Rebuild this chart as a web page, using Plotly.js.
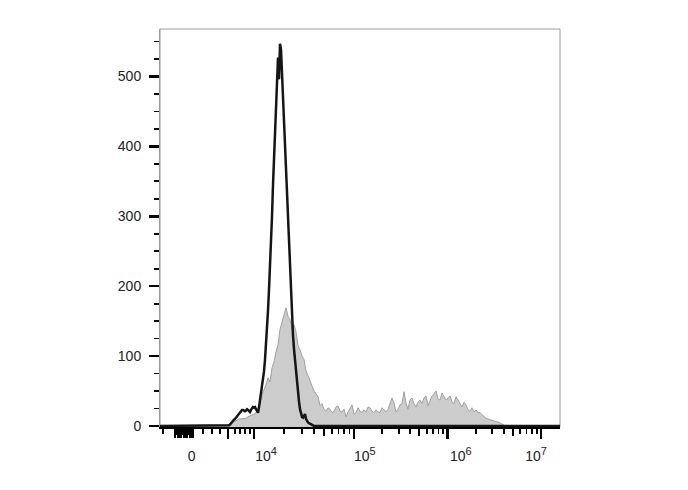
<!DOCTYPE html>
<html>
<head>
<meta charset="utf-8">
<script src="https://cdn.plot.ly/plotly-3.0.1.min.js"></script>
<style>html,body{margin:0;padding:0;background:#fff;}#chart{width:688px;height:490px;}</style>
</head>
<body>
<div id="chart"></div>
<script>
// Histogram channel scale (0..1000). Gray = control, black = stained sample.
const grayStart = 165, grayStep = 5;
const grayCounts = [0,2,3,5,6,8,9,10,10,11,11,13,14,15,17,19,22,30,45,52,59,69,63,83,92,106,116,138,149,160,169,157,152,138,145,135,115,109,100,95,79,72,64,57,50,46,42,29,32,24,21,26,24,19,21,27,29,21,20,24,13,20,26,30,17,19,26,21,19,23,20,27,26,21,19,23,20,19,26,23,20,24,32,40,33,20,24,30,32,49,33,24,37,40,32,27,34,37,32,40,43,29,36,43,46,50,39,37,47,42,37,40,43,34,32,42,37,30,27,34,30,23,21,26,20,23,19,19,16,14,11,10,9,7,7,6,6,4,3,1,0];

const blackStart = 165, blackStep = 2.5;
const blackCounts = [0,0,1,1,2,4,6,8,9,10,12,14,16,18,19,21,23,23,22,21,22,24,23,21,20,23,26,27,26,27,24,21,19,27,37,49,52,62,78,95,115,138,165,195,225,262,300,345,385,420,467,510,527,496,547,539,503,471,430,395,360,328,295,262,225,195,165,130,110,95,72,58,45,35,24,16,13,12,16,17,10,6,5,4,3,2,1,0,0];

// Axis: decade positions on the channel scale
const decadeVals = [170, 235, 485, 718.75, 952.5];       // 10^3 .. 10^7
const zeroClusterLong = [37.5, 46, 52, 60, 66, 75, 81];
const zeroClusterShort = [41.5, 56, 70.5];
const lowMinorTicks = [7.5, 107.5, 130, 150, 187.5, 200, 212.5, 225];
const xLabelVals = [79.25, 265, 512, 752, 940];
const supStyle = '<span style="font-size:11px">';
const xLabelText = ['0', '10<sup>' + supStyle + '4</span></sup>', '10<sup>' + supStyle + '5</span></sup>',
                    '10<sup>' + supStyle + '6</span></sup>', '10<sup>' + supStyle + '7</span></sup>'];

const yTickVals = [0, 100, 200, 300, 400, 500];
const yTickText = ['0', '100', '200', '300', '400', '500'];
const yMinorVals = [25, 50, 75, 125, 150, 175, 225, 250, 275, 325, 350, 375, 425, 450, 475, 525, 550];

// build bin positions
const grayX = grayCounts.map((_, i) => grayStart + i * grayStep);
const blackX = blackCounts.map((_, i) => blackStart + i * blackStep);
const blackXFull = [0].concat(blackX, [1000]);
const blackYFull = [0].concat(blackCounts, [0]);

// log minor ticks between decades 10^4..10^7
const minorVals = lowMinorTicks.slice();
const midVals = [];
for (let d = 1; d < decadeVals.length - 1; d++) {
  const a = decadeVals[d], b = decadeVals[d + 1];
  for (let k = 2; k <= 9; k++) {
    const v = a + Math.log10(k) * (b - a);
    if (k === 5) midVals.push(v); else minorVals.push(v);
  }
}

const traces = [
  {x: grayX, y: grayCounts, type: 'scatter', mode: 'lines', fill: 'tozeroy',
   fillcolor: 'rgb(204,204,204)', line: {color: 'rgb(160,160,160)', width: 1}, hoverinfo: 'skip'},
  {x: blackXFull, y: blackYFull, type: 'scatter', mode: 'lines',
   line: {color: '#151515', width: 2.5}, hoverinfo: 'skip'},
  {x: [], y: [], xaxis: 'x2', type: 'scatter', hoverinfo: 'skip'},
  {x: [], y: [], xaxis: 'x3', type: 'scatter', hoverinfo: 'skip'},
  {x: [], y: [], xaxis: 'x4', type: 'scatter', hoverinfo: 'skip'}
];

const font = {family: 'Arial, Liberation Sans, sans-serif', size: 14, color: '#222'};
const xfont = {family: 'Arial, Liberation Sans, sans-serif', size: 14, color: '#222'};
const layout = {
  width: 688, height: 490,
  margin: {l: 160, r: 128, t: 29, b: 63},
  paper_bgcolor: '#fff', plot_bgcolor: '#fff',
  showlegend: false,
  font: font,
  xaxis: {
    range: [0, 1000], showgrid: false, zeroline: false,
    showline: true, linecolor: '#000', linewidth: 2,
    tickmode: 'array', tickvals: decadeVals, ticks: 'outside', ticklen: 10, tickwidth: 2.5, tickcolor: '#000',
    showticklabels: false,
    minor: {tickmode: 'array', tickvals: minorVals, ticks: 'outside', ticklen: 5, tickwidth: 1.8, tickcolor: '#000', showgrid: false}
  },
  xaxis2: {
    overlaying: 'x', anchor: 'y', range: [0, 1000], showgrid: false, zeroline: false, showline: false,
    tickmode: 'array', tickvals: midVals, ticks: 'outside', ticklen: 8, tickwidth: 2.2, tickcolor: '#000',
    showticklabels: false
  },
  xaxis3: {
    overlaying: 'x', anchor: 'y', range: [0, 1000], showgrid: false, zeroline: false, showline: false,
    tickmode: 'array', tickvals: xLabelVals, ticktext: xLabelText, ticks: '',
    ticklabelstandoff: 19, tickfont: xfont
  },
  xaxis4: {
    overlaying: 'x', anchor: 'y', range: [0, 1000], showgrid: false, zeroline: false, showline: false,
    tickmode: 'array', tickvals: zeroClusterLong, ticks: 'outside', ticklen: 10, tickwidth: 2.6, tickcolor: '#000',
    showticklabels: false,
    minor: {tickmode: 'array', tickvals: zeroClusterShort, ticks: 'outside', ticklen: 7, tickwidth: 2.6, tickcolor: '#000', showgrid: false}
  },
  yaxis: {
    range: [-1.5, 568], showgrid: false, zeroline: false,
    showline: true, linecolor: '#9a9a9a', linewidth: 1,
    tickmode: 'array', tickvals: yTickVals, ticktext: yTickText,
    ticks: 'outside', ticklen: 10, tickwidth: 2.5, tickcolor: '#000', tickfont: font,
    ticklabelstandoff: 5,
    minor: {tickmode: 'array', tickvals: yMinorVals, ticks: 'outside', ticklen: 5, tickwidth: 1.8, tickcolor: '#000', showgrid: false}
  },
  shapes: [
    {type: 'rect', xref: 'paper', yref: 'paper', x0: 0, x1: 1, y0: 0, y1: 1,
     line: {color: '#9a9a9a', width: 1}, layer: 'below'}
  ]
};

Plotly.newPlot('chart', traces, layout, {displayModeBar: false, staticPlot: true});
</script>
</body>
</html>
